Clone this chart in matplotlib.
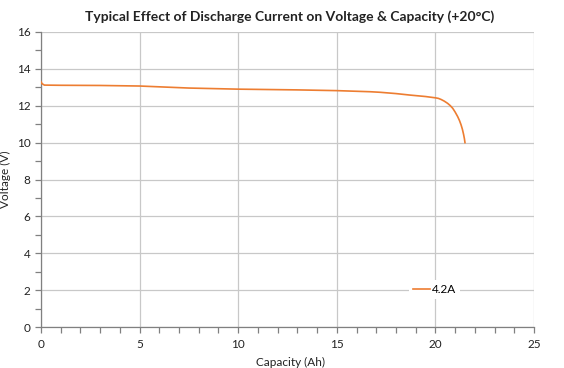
import matplotlib
matplotlib.use("Agg")
import matplotlib.pyplot as plt
from matplotlib.ticker import MultipleLocator

plt.rcParams['font.family'] = ['Lato', 'DejaVu Sans']

capacity = [0.0, 0.05, 0.17, 1.0, 3.0, 5.0, 7.5, 10.0, 13.0, 15.0, 16.7, 17.2, 18.0, 18.7,
            19.5, 20.0, 20.15, 20.29, 20.45, 20.62, 20.75, 20.88, 21.0, 21.13, 21.22, 21.30,
            21.37, 21.43, 21.47, 21.5]
voltage = [13.3, 13.2, 13.12, 13.11, 13.1, 13.07, 12.96, 12.9, 12.86, 12.82, 12.76, 12.73,
           12.66, 12.58, 12.5, 12.43, 12.40, 12.34, 12.25, 12.13, 12.01, 11.86, 11.66, 11.41,
           11.2, 10.97, 10.72, 10.44, 10.22, 10.0]
series_label = "4.2A"

title = "Typical Effect of Discharge Current on Voltage & Capacity (+20°C)"
xlabel = "Capacity (Ah)"
ylabel = "Voltage (V)"

fig = plt.figure(figsize=(5.64, 3.68), dpi=100)
ax = fig.add_axes([41/564, 1-327/368, (534-41)/564, (327-32)/368])

ax.plot(capacity, voltage, color='#ED7D31', lw=1.2, label=series_label, zorder=3)

ax.set_xlim(0, 25)
ax.set_ylim(0, 16)
ax.xaxis.set_major_locator(MultipleLocator(5))
ax.xaxis.set_minor_locator(MultipleLocator(1))
ax.yaxis.set_major_locator(MultipleLocator(2))
ax.yaxis.set_minor_locator(MultipleLocator(1))
ax.grid(True, which='major', color='#c8c8c8', lw=0.9)
ax.set_axisbelow(True)
for s in ['top', 'right']:
    ax.spines[s].set_visible(False)
for s in ['left', 'bottom']:
    ax.spines[s].set_color('#808080')
    ax.spines[s].set_linewidth(0.9)
ax.tick_params(which='both', direction='out', length=4, width=0.9, color='#808080',
               labelsize=8.5, labelcolor='#222222')
ax.tick_params(axis='x', pad=5)

ax.set_xlabel(xlabel, fontsize=8.5, color='#222222')
ax.set_ylabel(ylabel, fontsize=8.5, color='#222222')
ax.xaxis.set_label_coords((290-41)/493, -(357-327)/295)
ax.yaxis.set_label_coords(-(41-11)/493, 0.5)
fig.text(0.514, 1-17/368, title, ha='center', va='center', fontsize=10, fontweight='bold',
         color='#222222')

leg = ax.legend(loc='center', frameon=True, fontsize=8.5, handlelength=1.5, handletextpad=0.15,
                borderpad=0.3, fancybox=False)
leg.get_frame().set_edgecolor('none')
leg.get_frame().set_facecolor('white')
leg.get_frame().set_alpha(1)
leg.set_bbox_to_anchor(((347-41)/493, (327-319)/295, (522-347)/493, 59/295), transform=ax.transAxes)

fig.savefig("out.png", dpi=100)
